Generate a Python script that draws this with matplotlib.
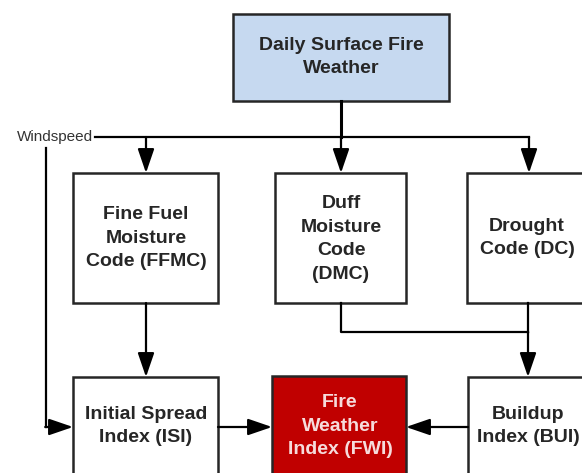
import matplotlib
matplotlib.use("Agg")
from matplotlib import pyplot as plt
from matplotlib.patches import Rectangle

plt.rcParams['font.family'] = ['Liberation Sans', 'DejaVu Sans']

# Box labels (text in the diagram)
box_names = ["top", "ffmc", "dmc", "dc", "isi", "fwi", "bui"]
box_labels = ["Daily Surface Fire\nWeather",
              "Fine Fuel\nMoisture\nCode (FFMC)",
              "Duff\nMoisture\nCode\n(DMC)",
              "Drought\nCode (DC)",
              "Initial Spread\nIndex (ISI)",
              "Fire\nWeather\nIndex (FWI)",
              "Buildup\nIndex (BUI)"]
wind_label = "Windspeed"

# Box geometry in pixels: left, top, right, bottom
box_left =   [233, 73, 275, 467, 73, 272, 468]
box_top =    [14, 173, 173, 173, 377, 376, 377]
box_right =  [449, 218, 406, 592, 218, 406, 592]
box_bottom = [101, 303, 303, 303, 492, 492, 492]
box_fill = ["#c6d9f0", "white", "white", "white", "white", "#c00000", "white"]
text_col = ["#262626"] * 5 + ["#f6dcdc", "#262626"]
text_x = [341, 146, 341, 527, 146, 340, 528]
text_y = [57, 238, 239, 238, 426, 426, 426]
line_sp = [1.4, 1.5, 1.5, 1.45, 1.45, 1.5, 1.45]

EDGE = "#262626"
LW = 1.6


def arrow(ax, x0, y0, x1, y1):
    ax.annotate("", xy=(x1, y1), xytext=(x0, y0),
                arrowprops=dict(arrowstyle="-|>,head_length=1.05,head_width=0.36",
                                mutation_scale=14, color="black", lw=LW,
                                shrinkA=0, shrinkB=0))


def main():
    fig = plt.figure(figsize=(5.82, 4.73), dpi=100)
    ax = fig.add_axes([0, 0, 1, 1])
    ax.set_xlim(0, 582)
    ax.set_ylim(473, 0)
    ax.axis("off")

    box = {}
    for i, name in enumerate(box_names):
        l, t, r, b = box_left[i], box_top[i], box_right[i], box_bottom[i]
        box[name] = (l, t, r, b)
        ax.add_patch(Rectangle((l, t), r - l, b - t, facecolor=box_fill[i],
                               edgecolor=EDGE, lw=1.8, zorder=2))
        ax.text(text_x[i], text_y[i], box_labels[i], ha="center", va="center",
                fontsize=14, fontweight="bold", color=text_col[i],
                linespacing=line_sp[i], zorder=3)

    # Trunk from the weather box to the distribution line
    cx = (box["top"][0] + box["top"][2]) / 2
    bus_y = 137
    ax.plot([cx, cx], [box["top"][3], bus_y], color="black", lw=2.2)
    ax.plot([95, 529], [bus_y, bus_y], color="black", lw=LW)

    # Arrows down to the three moisture codes
    for x in [146, cx, 529]:
        arrow(ax, x, bus_y, x, box["ffmc"][1])

    # Windspeed line down to ISI
    ax.text(93, bus_y, wind_label, ha="right", va="center", fontsize=11,
            color="#333333")
    ax.plot([46, 46], [148, 427], color="black", lw=LW)
    arrow(ax, 46 - 0.8, 427, box["isi"][0], 427)

    # FFMC to ISI
    arrow(ax, 146, box["ffmc"][3], 146, box["isi"][1])

    # DMC and DC join into BUI
    join_y = 332
    ax.plot([cx, cx, 528], [box["dmc"][3], join_y, join_y], color="black", lw=LW)
    ax.plot([528, 528], [box["dc"][3], join_y], color="black", lw=LW)
    arrow(ax, 528, join_y, 528, box["bui"][1])

    # ISI and BUI into FWI
    arrow(ax, box["isi"][2], 427, box["fwi"][0], 427)
    arrow(ax, box["bui"][0], 427, box["fwi"][2], 427)

    fig.savefig("out.png", dpi=100)


if __name__ == "__main__":
    main()
